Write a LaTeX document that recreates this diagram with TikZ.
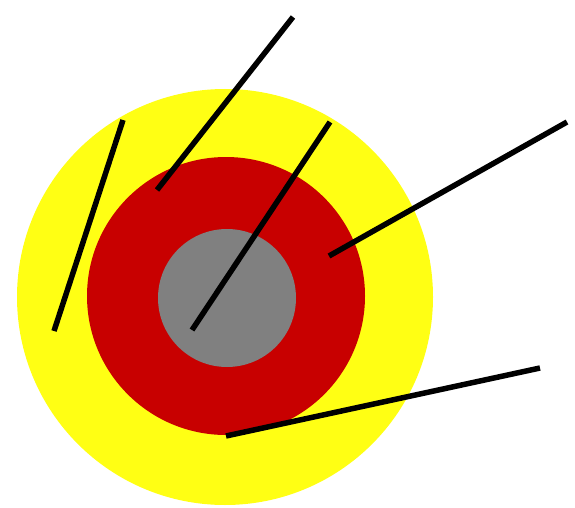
\documentclass[tikz,border=0pt]{standalone}
\definecolor{ylw}{RGB}{255,255,20}
\definecolor{rd}{RGB}{200,0,0}
\definecolor{gr}{RGB}{128,128,128}
\tikzset{ring/.style={circle,inner sep=0pt,draw=none},
  leader/.style={line width=5.5pt,black,line cap=butt}}
\begin{document}
\begin{tikzpicture}[x=1pt,y=-1pt]
\useasboundingbox (0,0) rectangle (575,508);
\node[ring,fill=ylw,minimum size=416pt] (outer) at (225,297) {};
\node[ring,fill=rd,minimum size=278pt] (mid) at (226,296) {};
\node[ring,fill=gr,minimum size=138pt] (core) at (227,298) {};
\coordinate (a1) at (123,120); \coordinate (a2) at (54,331);
\coordinate (b1) at (293,17);  \coordinate (b2) at (157,190);
\coordinate (c1) at (330,122); \coordinate (c2) at (192,330);
\coordinate (d1) at (567,122); \coordinate (d2) at (329,256);
\coordinate (e1) at (540,368); \coordinate (e2) at (226,436);
\draw[leader] (a1) -- (a2);
\draw[leader] (b1) -- (b2);
\draw[leader] (c1) -- (c2);
\draw[leader] (d1) -- (d2);
\draw[leader] (e1) -- (e2);
\end{tikzpicture}
\end{document}
